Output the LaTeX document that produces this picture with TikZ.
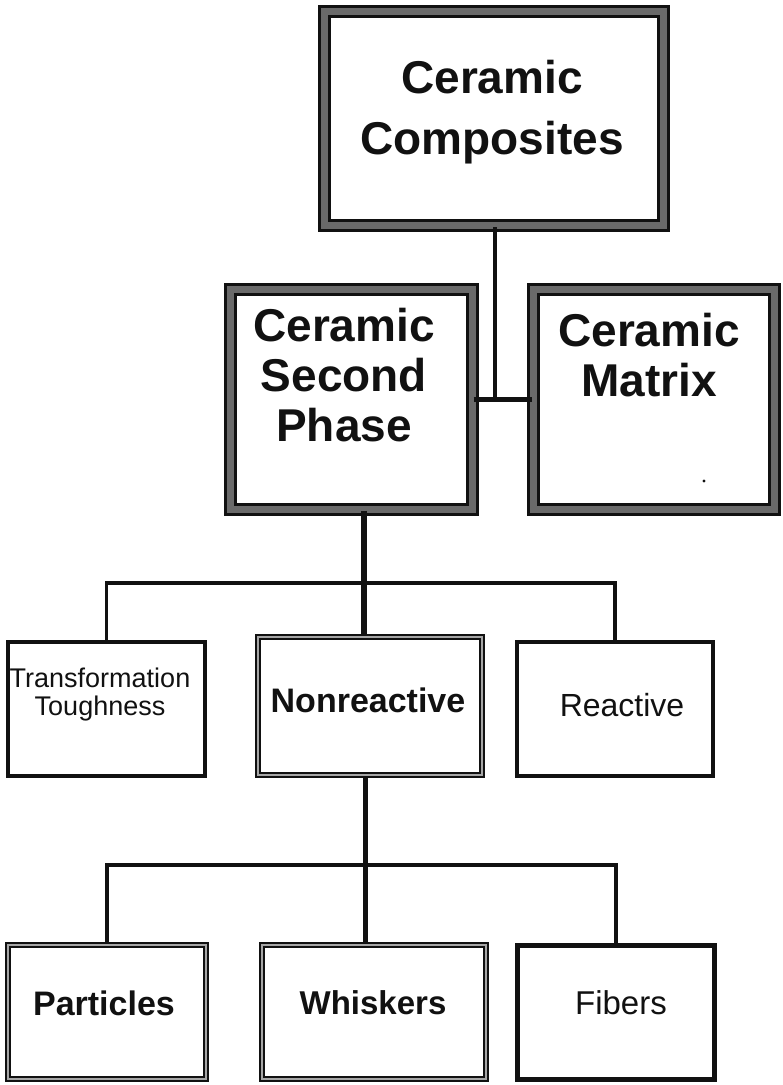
\documentclass[tikz,border=0pt]{standalone}
\usepackage{fontspec}
\setmainfont{Liberation Sans}
\definecolor{ink}{HTML}{111111}
\definecolor{grain}{HTML}{6a6a6a}
\tikzset{
	heavybox/.style={draw=ink, double=grain, double distance=7pt, line width=3pt, inner sep=0pt},
	midbox/.style={draw=ink, double=grain!60, double distance=1.6pt, line width=2.2pt, inner sep=0pt},
	thinbox/.style={draw=ink, line width=4pt, inner sep=0pt},
	bigtxt/.style={align=center, text=ink},
	link/.style={draw=ink, line width=#1},
	link/.default=4pt
}

\begin{document}
\begin{tikzpicture}[x=1pt,y=-1pt]
			\useasboundingbox (0,0) rectangle (783,1085);

			% top level
			\node[heavybox, minimum width=339pt, minimum height=214pt] (comp) at (494,118.5) {};
			\node[heavybox, minimum width=242pt, minimum height=220pt] (sec) at (351,399) {};
			\node[heavybox, minimum width=241pt, minimum height=220pt] (mat) at (653.5,399) {};

			\node[bigtxt, font=\fontsize{46}{61}\selectfont\bfseries] (compT) at (492,112) {Ceramic\\Composites};
			\node[bigtxt, font=\fontsize{46}{50}\selectfont\bfseries] (secT) at (344,375) {Ceramic\\Second\\Phase};
			\node[bigtxt, font=\fontsize{46}{50}\selectfont\bfseries] (matT) at (649,355) {Ceramic\\Matrix};
			\fill[ink] (704,481) circle (1.6);

			% second level
			\node[thinbox, minimum width=197pt, minimum height=134pt] (trans) at (106.5,709) {};
			\node[midbox, minimum width=224pt, minimum height=138pt] (nonr) at (370,706) {};
			\node[thinbox, minimum width=196pt, minimum height=134pt] (react) at (615,709) {};

			\node[bigtxt, font=\fontsize{27}{28}\selectfont] (transT) at (100,695) {Transformation\\Toughness};
			\node[bigtxt, font=\fontsize{34}{34}\selectfont\bfseries] (nonrT) at (368,700) {Nonreactive};
			\node[bigtxt, font=\fontsize{32}{32}\selectfont] (reactT) at (622,705) {Reactive};

			% third level
			\node[midbox, minimum width=198pt, minimum height=134pt] (part) at (107,1012) {};
			\node[midbox, minimum width=224pt, minimum height=134pt] (whisk) at (374,1012) {};
			\node[thinbox, line width=5pt, minimum width=197pt, minimum height=134pt] (fib) at (616,1012) {};

			\node[bigtxt, font=\fontsize{34}{34}\selectfont\bfseries] (partT) at (104,1003) {Particles};
			\node[bigtxt, font=\fontsize{33}{33}\selectfont\bfseries] (whiskT) at (373,1003) {Whiskers};
			\node[bigtxt, font=\fontsize{33}{33}\selectfont] (fibT) at (621,1003) {Fibers};

			% connectors
			\coordinate (hub) at (495,399);
			\coordinate (tbus) at (364,583);
			\coordinate (bbus) at (365,865);

			\draw[link=4.5pt] (comp.south -| hub) -- (hub);
			\draw[link=5pt] (sec.east |- hub) -- (mat.west |- hub);
			\draw[link=6pt] (sec.south -| tbus) -- (nonr.north -| tbus);
			\draw[link=3.5pt] (trans.north) |- (tbus) -| (react.north);
			\draw[link=5pt] (nonr.south -| bbus) -- (whisk.north -| bbus);
			\draw[link=4.5pt] (part.north) |- (bbus) -| (fib.north);
		\end{tikzpicture}
\end{document}
